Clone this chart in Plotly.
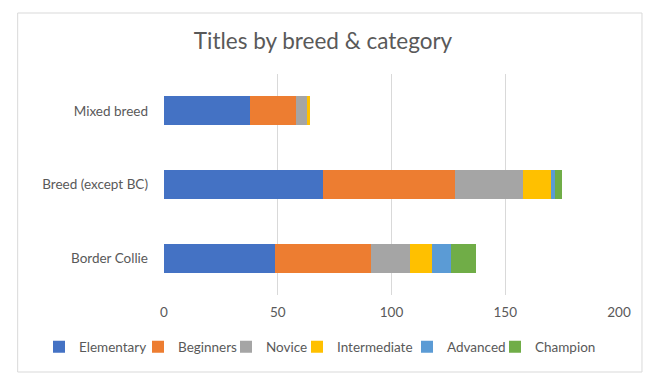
import plotly.graph_objects as go

categories = ["Border Collie", "Breed (except BC)", "Mixed breed"]
series_names = ["Elementary", "Beginners", "Novice", "Intermediate", "Advanced", "Champion"]
elementary = [49, 70, 38]
beginners = [42, 58, 20]
novice = [17, 30, 5]
intermediate = [10, 12, 1]
advanced = [8, 2, 0]
champion = [11, 3, 0]
x_ticks = [0, 50, 100, 150, 200]

values = [elementary, beginners, novice, intermediate, advanced, champion]
colors = ["#4472C4", "#ED7D31", "#A5A5A5", "#FFC000", "#5B9BD5", "#70AD47"]
# pixel x where each legend entry's text begins
legend_text_x = [79, 178, 266, 337, 447, 535]

W, H = 656, 386
L, R, T, B = 163.5, 37, 74, 91
pw, ph = W - L - R, H - T - B
TXT = "#595959"

fig = go.Figure()
legend_layouts = {}
for i, (name, vals, c, tx) in enumerate(zip(series_names, values, colors, legend_text_x)):
    lname = "legend" if i == 0 else f"legend{i + 1}"
    fig.add_trace(go.Bar(y=categories, x=vals, name=name, orientation="h",
                         marker=dict(color=c, line=dict(width=0)), legend=lname))
    legend_layouts[lname] = dict(
        orientation="h", xref="container", yref="container",
        x=(tx - 40) / W, xanchor="left", y=1 - 347 / H, yanchor="middle",
        font=dict(size=13.5, color=TXT), itemwidth=30,
        bgcolor="rgba(0,0,0,0)", borderwidth=0,
    )

def px_to_paper_x(px):
    return (px - L) / pw

def px_to_paper_y(py):
    return (H - B - py) / ph

fig.update_layout(
    width=W, height=H,
    margin=dict(l=L, r=R, t=T, b=B, autoexpand=False),
    barmode="stack", bargap=0.61,
    paper_bgcolor="white", plot_bgcolor="white",
    font=dict(family="Lato, Open Sans, sans-serif", size=13.5, color=TXT),
    title=dict(text="Titles by breed & category", x=323 / W, xanchor="center",
               y=1 - 41 / H, yanchor="middle", yref="container",
               font=dict(size=22.5, color=TXT)),
    xaxis=dict(range=[0, 200], tickvals=x_ticks, showgrid=True, gridcolor="#D9D9D9",
               gridwidth=1, zeroline=False, showline=False, ticks="",
               ticklabelstandoff=7, tickfont=dict(size=13.5, color=TXT)),
    yaxis=dict(showgrid=False, zeroline=False, showline=False, ticks="",
               ticklabelstandoff=15, tickfont=dict(size=13.5, color=TXT)),
    showlegend=True,
    **legend_layouts,
)

fig.add_shape(type="rect", xref="paper", yref="paper",
              x0=px_to_paper_x(17), x1=px_to_paper_x(642),
              y0=px_to_paper_y(372), y1=px_to_paper_y(13),
              line=dict(color="#D9D9D9", width=1), fillcolor="rgba(0,0,0,0)",
              layer="below")

fig.write_html("out.html", config={"displayModeBar": False},
               post_script="document.body.style.margin='0';")
